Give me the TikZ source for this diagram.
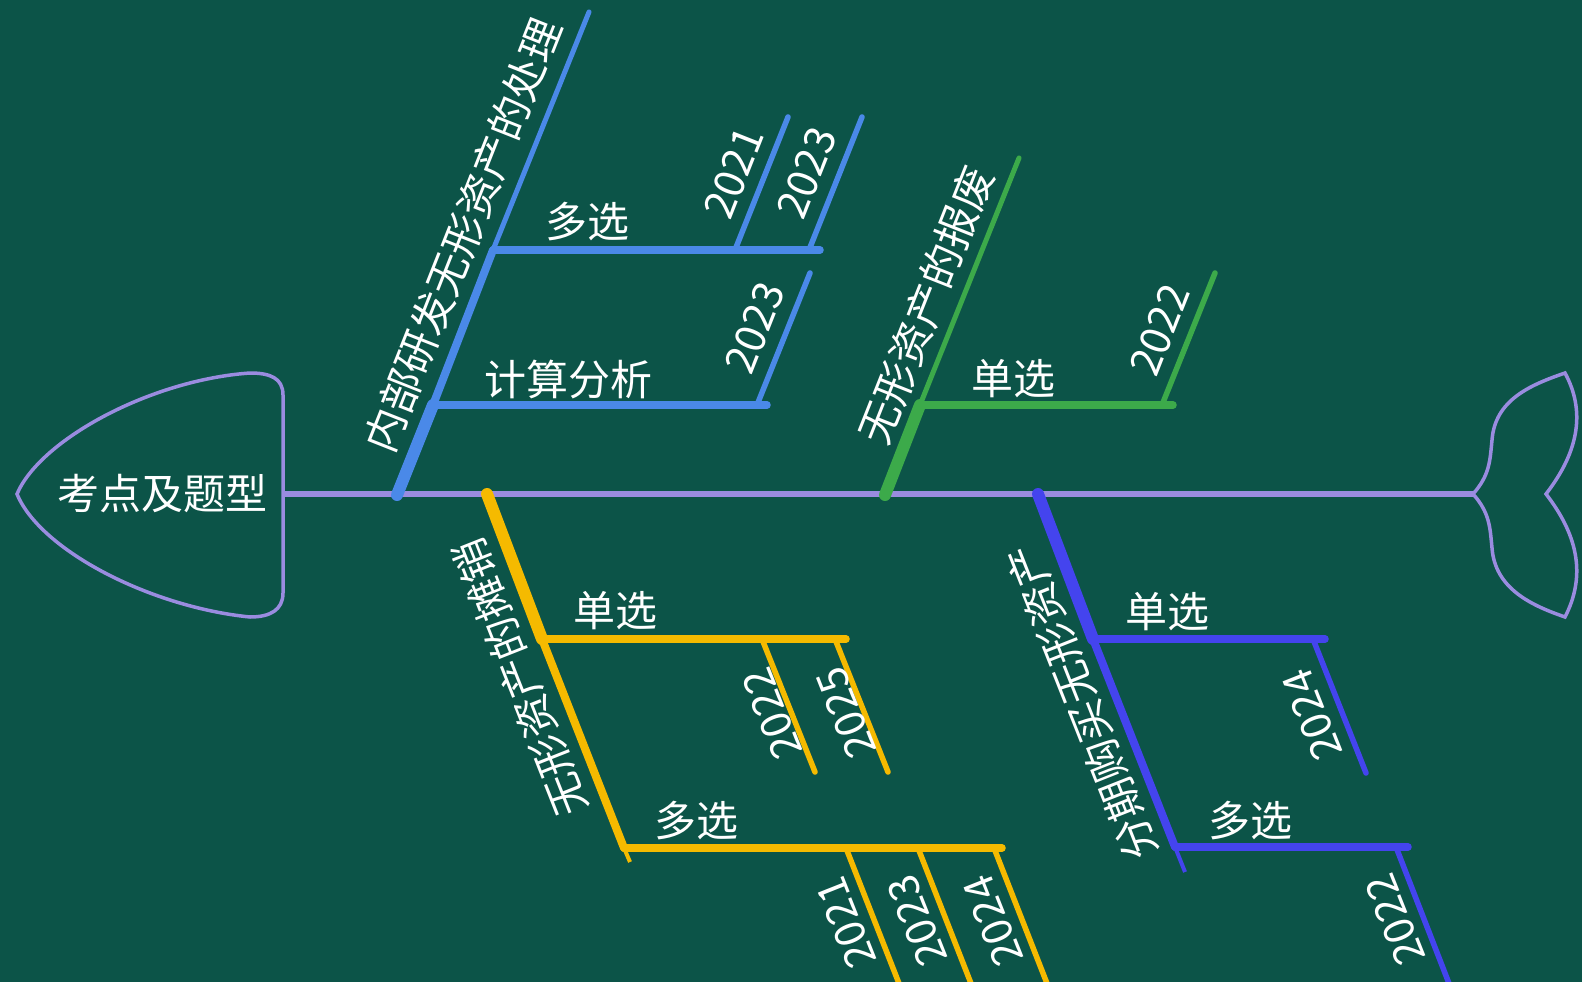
\documentclass[tikz,border=0pt]{standalone}
\usepackage{fontspec}
\setmainfont{Noto Sans CJK SC}
\definecolor{bgc}{HTML}{0C5448}
\definecolor{spinec}{HTML}{9A8CE0}
\definecolor{bluec}{HTML}{4A89E8}
\definecolor{greenc}{HTML}{3CAA4A}
\definecolor{yellowc}{HTML}{F5BA00}
\definecolor{purplec}{HTML}{4444EE}
\begin{document}
\begin{tikzpicture}[x=1pt,y=-1pt,
  lbl/.style={text=white,font=\fontsize{42}{50}\selectfont,inner sep=0pt},
  upr/.style={rotate=68.4},
  dnr/.style={rotate=111.6},
  bonea/.style={line width=12pt,line cap=round},
  boneb/.style={line width=8pt,line cap=round},
  bonec/.style={line width=5pt,line cap=round},
  hbar/.style={line width=7.5pt,line cap=round},
  yearl/.style={line width=5.5pt,line cap=round}]
\fill[bgc] (0,0) rectangle (1582,982);
\useasboundingbox (0,0) rectangle (1582,982);
% head
\draw[spinec,line width=3.5pt] (283,395) .. controls (283,378) and (270,373) .. (250,373)
  .. controls (150,380) and (40,440) .. (17,494)
  .. controls (40,550) and (150,607) .. (250,617)
  .. controls (270,617) and (283,610) .. (283,593) -- cycle;
\node[lbl] (head) at (162,494) {考点及题型};
% spine
\coordinate (spineL) at (283,494);
\coordinate (spineR) at (1473,494);
\draw[spinec,line width=6.5pt] (spineL) -- (spineR);
% tail
\draw[spinec,line width=3.5pt] (spineR) .. controls (1490,475) and (1490,460) .. (1492,440)
  .. controls (1495,400) and (1530,385) .. (1565,373)
  .. controls (1585,410) and (1580,450) .. (1546,494)
  .. controls (1580,538) and (1585,578) .. (1565,617)
  .. controls (1530,605) and (1495,588) .. (1492,548)
  .. controls (1490,528) and (1490,513) .. (spineR);
% ===== blue branch
\coordinate (b0) at (397,495);
\coordinate (b1) at (433,405);
\coordinate (b2) at (493,250);
\coordinate (bt) at (589,12);
\coordinate (b1e) at (767,405);
\coordinate (b2e) at (820,250);
\coordinate (b1y1) at (757,405); \coordinate (b1y1t) at (810,273);
\coordinate (b2y1) at (735,250); \coordinate (b2y1t) at (788,117);
\coordinate (b2y2) at (809,250); \coordinate (b2y2t) at (862,117);
\begin{scope}[draw=bluec]
\draw[bonea] (b0) -- (b1);
\draw[boneb] (b1) -- (b2);
\draw[bonec] (b2) -- (bt);
\draw[hbar] (b1) -- (b1e);
\draw[hbar] (b2) -- (b2e);
\draw[yearl] (b1y1) -- (b1y1t);
\draw[yearl] (b2y1) -- (b2y1t);
\draw[yearl] (b2y2) -- (b2y2t);
\end{scope}
\node[lbl,upr] (bmain) at (463,235) {内部研发无形资产的处理};
\node[lbl] (bduo) at (587,222) {多选};
\node[lbl] (bjs) at (568,379) {计算分析};
\node[lbl,upr] (by2021) at (734,173) {2021};
\node[lbl,upr] (by2023a) at (807,173) {2023};
\node[lbl,upr] (by2023b) at (755,328) {2023};
% ===== green branch
\coordinate (g0) at (885,495);
\coordinate (g1) at (920,405);
\coordinate (gt) at (1019,158);
\coordinate (g1e) at (1173,405);
\coordinate (g1y1) at (1162,405); \coordinate (g1y1t) at (1215,273);
\begin{scope}[draw=greenc]
\draw[bonea] (g0) -- (g1);
\draw[bonec] (g1) -- (gt);
\draw[hbar] (g1) -- (g1e);
\draw[yearl] (g1y1) -- (g1y1t);
\end{scope}
\node[lbl,upr] (gmain) at (926,305) {无形资产的报废};
\node[lbl] (gdan) at (1013,379) {单选};
\node[lbl,upr] (gy2022) at (1160,330) {2022};
% ===== yellow branch
\coordinate (y0) at (487,494);
\coordinate (y1) at (542,639);
\coordinate (y2) at (624,848);
\coordinate (ys) at (630,862);
\coordinate (y1e) at (846,639);
\coordinate (y2e) at (1002,848);
\coordinate (y1a) at (762,639); \coordinate (y1at) at (815,772);
\coordinate (y1b) at (835,639); \coordinate (y1bt) at (888,772);
\coordinate (y2a) at (846,848); \coordinate (y2at) at (900,986);
\coordinate (y2b) at (918,848); \coordinate (y2bt) at (972,986);
\coordinate (y2c) at (994,848); \coordinate (y2ct) at (1048,986);
\begin{scope}[draw=yellowc]
\draw[bonea] (y0) -- (y1);
\draw[boneb] (y1) -- (y2);
\draw[line width=4pt] (y2) -- (ys);
\draw[hbar] (y1) -- (y1e);
\draw[hbar] (y2) -- (y2e);
\draw[yearl] (y1a) -- (y1at);
\draw[yearl] (y1b) -- (y1bt);
\draw[yearl] (y2a) -- (y2at);
\draw[yearl] (y2b) -- (y2bt);
\draw[yearl] (y2c) -- (y2ct);
\end{scope}
\node[lbl,dnr] (ymain) at (520,678) {无形资产的摊销};
\node[lbl] (ydan) at (615,611) {单选};
\node[lbl] (yduo) at (696,821) {多选};
\node[lbl,dnr] (yy2022) at (772,714) {2022};
\node[lbl,dnr] (yy2025) at (846,713) {2025};
\node[lbl,dnr] (yy2021) at (846,923) {2021};
\node[lbl,dnr] (yy2023) at (917,921) {2023};
\node[lbl,dnr] (yy2024) at (993,921) {2024};
% ===== purple branch
\coordinate (p0) at (1038,494);
\coordinate (p1) at (1093,639);
\coordinate (p2) at (1175,847);
\coordinate (ps) at (1185,872);
\coordinate (p1e) at (1325,639);
\coordinate (p2e) at (1408,847);
\coordinate (p1a) at (1313,639); \coordinate (p1at) at (1366,773);
\coordinate (p2a) at (1396,847); \coordinate (p2at) at (1450,986);
\begin{scope}[draw=purplec]
\draw[bonea] (p0) -- (p1);
\draw[boneb] (p1) -- (p2);
\draw[line width=4pt] (p2) -- (ps);
\draw[hbar] (p1) -- (p1e);
\draw[hbar] (p2) -- (p2e);
\draw[yearl] (p1a) -- (p1at);
\draw[yearl] (p2a) -- (p2at);
\end{scope}
\node[lbl,dnr] (pmain) at (1082,702) {分期购买无形资产};
\node[lbl] (pdan) at (1167,612) {单选};
\node[lbl] (pduo) at (1250,821) {多选};
\node[lbl,dnr] (py2024) at (1312,715) {2024};
\node[lbl,dnr] (py2022) at (1395,920) {2022};
\end{tikzpicture}
\end{document}
